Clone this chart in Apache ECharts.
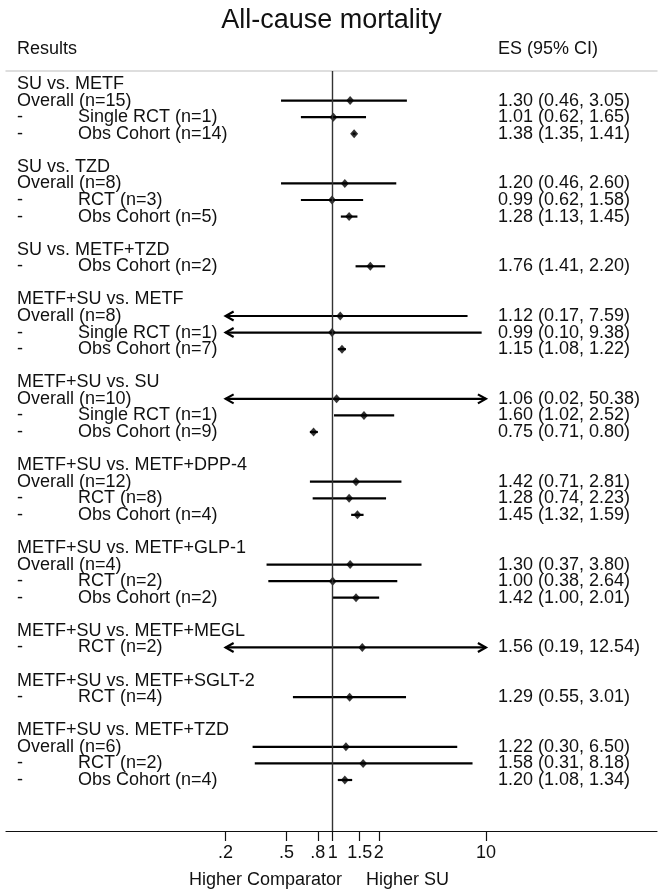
<!DOCTYPE html>
<html>
<head>
<meta charset="utf-8">
<style>html,body{margin:0;padding:0;background:#fff;}#c{width:663px;height:890px;}</style>
<script src="https://cdn.jsdelivr.net/npm/echarts@6/dist/echarts.min.js"></script>
</head>
<body>
<div id="c"></div>
<script>
const headerRows = [0, 5, 10, 13, 18, 23, 28, 33, 36, 39];
const headerLabels = ['SU vs. METF', 'SU vs. TZD', 'SU vs. METF+TZD', 'METF+SU vs. METF', 'METF+SU vs. SU',
  'METF+SU vs. METF+DPP-4', 'METF+SU vs. METF+GLP-1', 'METF+SU vs. METF+MEGL', 'METF+SU vs. METF+SGLT-2', 'METF+SU vs. METF+TZD'];
const studyRows = [1, 2, 3, 6, 7, 8, 11, 14, 15, 16, 19, 20, 21, 24, 25, 26, 29, 30, 31, 34, 37, 40, 41, 42];
const studyLabels = ['Overall (n=15)', 'Single RCT (n=1)', 'Obs Cohort (n=14)', 'Overall (n=8)', 'RCT (n=3)', 'Obs Cohort (n=5)',
  'Obs Cohort (n=2)', 'Overall (n=8)', 'Single RCT (n=1)', 'Obs Cohort (n=7)', 'Overall (n=10)', 'Single RCT (n=1)',
  'Obs Cohort (n=9)', 'Overall (n=12)', 'RCT (n=8)', 'Obs Cohort (n=4)', 'Overall (n=4)', 'RCT (n=2)', 'Obs Cohort (n=2)',
  'RCT (n=2)', 'RCT (n=4)', 'Overall (n=6)', 'RCT (n=2)', 'Obs Cohort (n=4)'];
const esValues = [1.30, 1.01, 1.38, 1.20, 0.99, 1.28, 1.76, 1.12, 0.99, 1.15, 1.06, 1.60, 0.75, 1.42, 1.28, 1.45, 1.30, 1.00, 1.42, 1.56, 1.29, 1.22, 1.58, 1.20];
const ciLower = [0.46, 0.62, 1.35, 0.46, 0.62, 1.13, 1.41, 0.17, 0.10, 1.08, 0.02, 1.02, 0.71, 0.71, 0.74, 1.32, 0.37, 0.38, 1.00, 0.19, 0.55, 0.30, 0.31, 1.08];
const ciUpper = [3.05, 1.65, 1.41, 2.60, 1.58, 1.45, 2.20, 7.59, 9.38, 1.22, 50.38, 2.52, 0.80, 2.81, 2.23, 1.59, 3.80, 2.64, 2.01, 12.54, 3.01, 6.50, 8.18, 1.34];
const tickValues = [0.2, 0.5, 0.8, 1, 1.5, 2, 10];
const tickLabels = ['.2', '.5', '.8', '1', '1.5', '2', '10'];

const FONT = "'Liberation Sans', Arial, Helvetica, sans-serif";
const FS = 18;
const lg = v => Math.log10(v);
const clipLo = lg(tickValues[0]);
const clipHi = lg(tickValues[tickValues.length - 1]);

const col1Text = {};
const col2Text = {};
headerRows.forEach((r, i) => { col1Text[r] = headerLabels[i]; });
studyRows.forEach((r, i) => {
  const s = studyLabels[i];
  if (s.startsWith('Overall')) col1Text[r] = s;
  else { col1Text[r] = '-'; col2Text[r] = s; }
});
const rightText = {};
studyRows.forEach((r, i) => {
  rightText[r] = esValues[i].toFixed(2) + ' (' + ciLower[i].toFixed(2) + ', ' + ciUpper[i].toFixed(2) + ')';
});
const allRows = headerRows.concat(studyRows).sort((a, b) => a - b);
const indentRows = Object.keys(col2Text).map(Number).sort((a, b) => a - b);

const ciData = studyRows.map((r, i) => [lg(ciLower[i]), lg(ciUpper[i]), r]);
const ptData = studyRows.map((r, i) => [lg(esValues[i]), r]);

const X_MIN = (6 - 332.7) / 153.2, X_MAX = (657 - 332.7) / 153.2;
const Y_MIN = -(84 - 71) / 16.571, Y_MAX = 42 + (831 - 780) / 16.571;

// text columns are axis labels; empty sentinel labels at the axis ends absorb ECharts' min/max label handling
function textAxis(pos, margin, values, map) {
  return {
    type: 'value', inverse: true, position: pos, min: Y_MIN, max: Y_MAX,
    axisLine: {show: false}, axisTick: {show: false}, splitLine: {show: false},
    axisLabel: {show: true, inside: true, margin: margin, align: 'left',
      customValues: [Y_MIN].concat(values, [Y_MAX]),
      showMinLabel: false, showMaxLabel: false, hideOverlap: false,
      fontFamily: FONT, fontSize: FS, color: '#111',
      formatter: v => (Math.abs(v - Math.round(v)) < 1e-6 ? (map[Math.round(v)] || '') : '')}
  };
}

const chart = echarts.init(document.getElementById('c'), null, {renderer: 'canvas'});
chart.setOption({
  backgroundColor: '#fff',
  animation: false,
  textStyle: {fontFamily: FONT},
  title: [
    {text: 'All-cause mortality', left: 'center', top: 2,
      textStyle: {fontFamily: FONT, fontSize: 27, fontWeight: 'normal', color: '#111'}},
    {text: 'Results', left: 12, top: 35,
      textStyle: {fontFamily: FONT, fontSize: FS, fontWeight: 'normal', color: '#111'}},
    {text: 'ES (95% CI)', left: 493, top: 35,
      textStyle: {fontFamily: FONT, fontSize: FS, fontWeight: 'normal', color: '#111'}}
  ],
  grid: {left: 6, right: 6, top: 71, bottom: 59, containLabel: false, outerBoundsMode: 'none'},
  xAxis: [
    {
      type: 'value', position: 'bottom', min: X_MIN, max: X_MAX,
      axisLine: {show: true, onZero: false, lineStyle: {color: '#111', width: 1.2}},
      axisTick: {show: true, length: 10, inside: false, customValues: tickValues.map(lg),
        lineStyle: {color: '#111', width: 1.2}},
      axisLabel: {show: true, margin: 13, customValues: tickValues.map(lg), fontFamily: FONT, fontSize: FS, color: '#111',
        showMinLabel: true, showMaxLabel: true,
        formatter: v => { const i = tickValues.findIndex(t => Math.abs(lg(t) - v) < 1e-6); return i >= 0 ? tickLabels[i] : ''; }},
      splitLine: {show: false},
      name: '{a|Higher Comparator}{b|Higher SU}', nameLocation: 'middle', nameGap: 40,
      nameTextStyle: {fontFamily: FONT, fontSize: FS, color: '#111',
        rich: {
          a: {fontFamily: FONT, fontSize: FS, color: '#111'},
          b: {fontFamily: FONT, fontSize: FS, color: '#111', padding: [0, 25, 0, 24]}
        }}
    },
    {
      type: 'value', position: 'top', min: X_MIN, max: X_MAX,
      axisLine: {show: true, onZero: false, lineStyle: {color: '#d4d4d4', width: 1.5}},
      axisTick: {show: false}, axisLabel: {show: false}, splitLine: {show: false}
    }
  ],
  yAxis: [
    textAxis('left', 11, allRows, col1Text),
    textAxis('right', 159, studyRows, rightText),
    textAxis('left', 72, indentRows, col2Text)
  ],
  series: [
    {
      type: 'custom', xAxisIndex: 0, yAxisIndex: 0,
      data: ciData,
      encode: {x: [0, 1], y: 2},
      renderItem: (params, api) => {
        const lo = api.value(0), hi = api.value(1), row = api.value(2);
        const cl = Math.max(lo, clipLo), ch = Math.min(hi, clipHi);
        const a = api.coord([cl, row]), b = api.coord([ch, row]);
        const st = {stroke: '#000', lineWidth: 2.2, fill: null};
        const kids = [{type: 'line', shape: {x1: a[0], y1: a[1], x2: b[0], y2: b[1]}, style: st}];
        if (lo < clipLo) kids.push({type: 'polyline', shape: {points: [[a[0] + 8, a[1] - 4.5], [a[0], a[1]], [a[0] + 8, a[1] + 4.5]]}, style: st});
        if (hi > clipHi) kids.push({type: 'polyline', shape: {points: [[b[0] - 8, b[1] - 4.5], [b[0], b[1]], [b[0] - 8, b[1] + 4.5]]}, style: st});
        return {type: 'group', children: kids};
      },
      markLine: {
        silent: true, symbol: 'none', animation: false,
        label: {show: false},
        lineStyle: {color: '#333', width: 1.4, type: 'solid'},
        data: [{xAxis: 0}]
      },
      z: 3
    },
    {
      type: 'scatter', xAxisIndex: 0, yAxisIndex: 0,
      data: ptData, symbol: 'diamond', symbolSize: [8, 9],
      itemStyle: {color: '#000'}, z: 4
    }
  ]
});
</script>
</body>
</html>
